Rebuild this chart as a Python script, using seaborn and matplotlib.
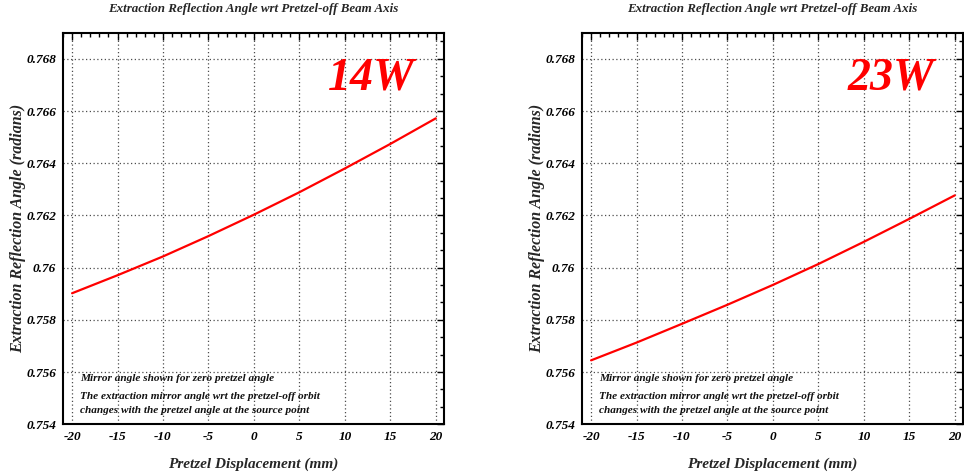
import matplotlib
matplotlib.use("Agg")
import matplotlib.pyplot as plt
from matplotlib.ticker import MultipleLocator, AutoMinorLocator, FuncFormatter
import seaborn as sns
import pandas as pd

# 数据
displacement = [-20, -15, -10, -5, 0, 5, 10, 15, 20]
angle_14w = [0.75902, 0.75971, 0.76043, 0.76121, 0.76203, 0.76289, 0.76380, 0.76474, 0.76572]
angle_23w = [0.75645, 0.75713, 0.75785, 0.75858, 0.75934, 0.76014, 0.76099, 0.76187, 0.76277]
panel_labels = ["14W", "23W"]

title_text = "Extraction Reflection Angle wrt Pretzel-off Beam Axis"
xlabel_text = "Pretzel Displacement (mm)"
ylabel_text = "Extraction Reflection Angle (radians)"
note_lines = [
    "Mirror angle shown for zero pretzel angle",
    "The extraction mirror angle wrt the pretzel-off orbit",
    "changes with the pretzel angle at the source point",
]

sns.set_style("white")
plt.rcParams["font.family"] = ["Liberation Serif", "DejaVu Serif"]
plt.rcParams["font.weight"] = "bold"
plt.rcParams["font.style"] = "italic"
plt.rcParams["axes.unicode_minus"] = False

fig = plt.figure(figsize=(9.64, 4.74), dpi=100)

lefts = [63 / 964, 582 / 964]
bottom = (474 - 424.3) / 474
width = 381 / 964
height = 391.6 / 474

for left, values, label in zip(lefts, [angle_14w, angle_23w], panel_labels):
    ax = fig.add_axes([left, bottom, width, height])
    df = pd.DataFrame({"x": displacement, "y": values})
    sns.lineplot(data=df, x="x", y="y", ax=ax, color="#ff0000", linewidth=1.6)

    ax.set_xlim(-21, 20.9)
    ax.set_ylim(0.754, 0.769)
    ax.xaxis.set_major_locator(MultipleLocator(5))
    ax.xaxis.set_minor_locator(MultipleLocator(1))
    ax.yaxis.set_major_locator(MultipleLocator(0.002))
    ax.yaxis.set_minor_locator(AutoMinorLocator(3))
    ax.yaxis.set_major_formatter(FuncFormatter(lambda v, p: "%g" % round(v, 4)))
    ax.xaxis.set_major_formatter(FuncFormatter(lambda v, p: "%g" % v))

    ax.grid(True, which="major", color="0.3", linestyle=(0, (1, 2)), linewidth=0.9)
    ax.tick_params(which="both", direction="in", top=True, right=True,
                   labelsize=9.5, colors="black", width=1.0)
    ax.tick_params(which="major", length=5, pad=5)
    ax.tick_params(which="minor", length=3)
    for sp in ax.spines.values():
        sp.set_color("black")
        sp.set_linewidth(1.5)

    ax.set_title(title_text, fontsize=9.4, fontweight="bold", style="italic", pad=15)
    ax.set_xlabel(xlabel_text, fontsize=11, fontweight="bold", style="italic", labelpad=10)
    ax.set_ylabel(ylabel_text, fontsize=11.5, fontweight="bold", style="italic", labelpad=0)

    ax.text(0.81, 0.882, label, transform=ax.transAxes, color="#ff0000",
            fontsize=33, fontweight="bold", style="italic", ha="center", va="center")

    for ty, line in zip([0.118, 0.07, 0.034], note_lines):
        ax.text(0.045, ty, line, transform=ax.transAxes, fontsize=8.1,
                fontweight="bold", style="italic", ha="left", va="center", color="#111111")

fig.savefig("out.png", dpi=100)
plt.close()
